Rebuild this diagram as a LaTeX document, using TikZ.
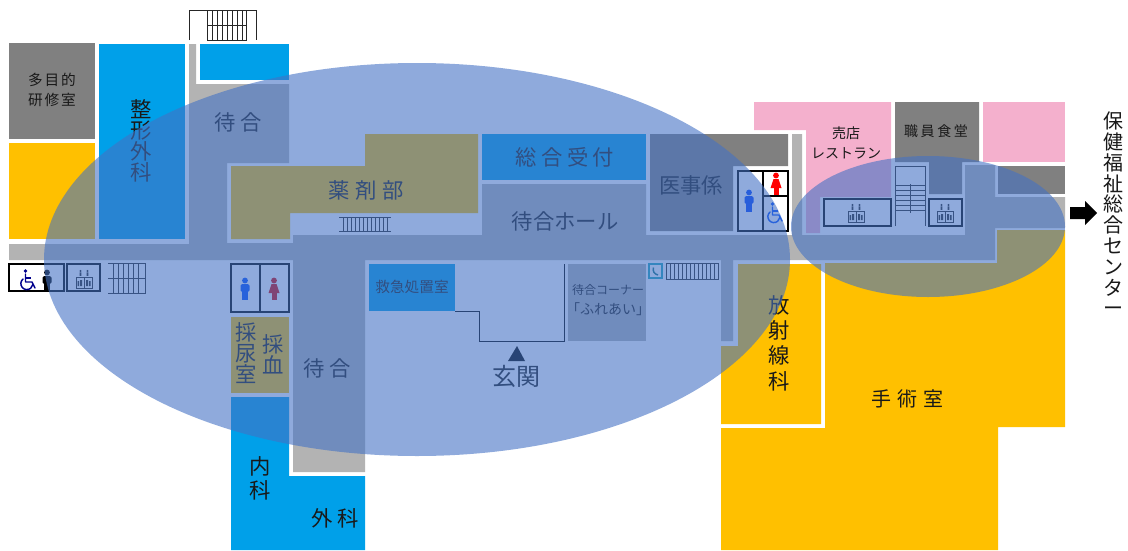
\documentclass[tikz,border=0pt]{standalone}
\usepackage{fontspec}
\newfontfamily\jp{Noto Sans CJK JP}
\newcommand\fsz[3]{\jp\fontsize{#1}{#2}\selectfont\addfontfeature{LetterSpace=#3}}
\definecolor{roomgray}{HTML}{808080}
\definecolor{hallgray}{HTML}{B3B3B3}
\definecolor{roomyellow}{HTML}{FFC000}
\definecolor{roomblue}{HTML}{00A0E9}
\definecolor{roompink}{HTML}{F4B0CD}
\definecolor{bubble}{HTML}{4472C4}
\definecolor{phoneteal}{HTML}{1CA5B8}
\tikzset{
  x=0.75pt,y=-0.75pt,
  lbl/.style={inner sep=0pt,outer sep=0pt,align=center,text=black!90},
  frameline/.style={draw=black,line width=1.2pt},
  thinline/.style={draw=black!85,line width=0.6pt},
  bubblefill/.style={fill=bubble,fill opacity=0.6},
  pics/man/.style={code={
    \fill[#1] (0,-8.5) circle (2.9);
    \fill[#1,rounded corners=1.2] (-4.5,-5) rectangle (4.5,3);
    \fill[#1] (-3,2) rectangle (3,11);
  }},
  pics/woman/.style={code={
    \fill[#1] (0,-8.5) circle (2.9);
    \fill[#1] (-2.5,-5) -- (2.5,-5) -- (5.5,4) -- (-5.5,4) -- cycle;
    \fill[#1] (-2.5,3) rectangle (2.5,11);
  }},
  pics/wheel/.style={code={
    \fill[#1] (-2.5,-10) circle (1.9);
    \draw[#1,line width=1.1pt,line cap=round,line join=round] (-2.5,-7) -- (-2.5,1) -- (4,1) -- (7,7);
    \draw[#1,line width=1.1pt] (-2.5,-3) -- (3,-3);
    \draw[#1,line width=1.1pt,line cap=round] (-5,-2) arc[start angle=230,end angle=10,radius=6];
  }},
  pics/lift/.style={code={
    \fill[black!85] (-3.5,-9) circle (1.2) (3.5,-9) circle (1.2);
    \fill[black!85] (-4.3,-7.6) rectangle (-2.7,-4.2) (2.7,-7.6) rectangle (4.3,-4.2);
    \draw[black!85,line width=0.6pt] (-8,-2.5) rectangle (8,8.5);
    \draw[black!85,line width=0.6pt] (0,-2.5) -- (0,8.5);
    \fill[black!85] (-4,0) rectangle (-2,6) (2,0) rectangle (4,6) (-6.5,1) rectangle (-5,6) (5,1) rectangle (6.5,6);
  }},
}
\begin{document}
\begin{tikzpicture}
\useasboundingbox (0,0) rectangle (1128,550);
% corridors
\fill[hallgray] (189,44) -- (196,44) -- (196,84) -- (289,84) -- (289,163) -- (227,163) -- (227,243) -- (293,243) -- (293,235) -- (482,235) -- (482,184) -- (646,184) -- (646,235) -- (792,235) -- (792,134) -- (802,134) -- (802,235) -- (965,235) -- (965,165) -- (995,165) -- (995,197) -- (1065,197) -- (1065,228) -- (995,228) -- (995,260) -- (733,260) -- (733,341) -- (721,341) -- (721,260) -- (365,260) -- (365,472) -- (293,472) -- (293,260) -- (9,260) -- (9,244) -- (189,244) -- cycle;
% rooms
\fill[roomgray] (9,43) rectangle (95,139);
\fill[roomyellow] (9,143) rectangle (95,239);
\fill[roomblue] (99,44) rectangle (185,239);
\fill[roomblue] (200,44) rectangle (289,80);
\fill[roomyellow] (231,166) -- (365,166) -- (365,134) -- (478,134) -- (478,213) -- (290,213) -- (290,239) -- (231,239) -- cycle;
\fill[roomblue] (482,134) rectangle (646,180);
\fill[roomgray] (650,134) -- (788,134) -- (788,166) -- (733,166) -- (733,231) -- (650,231) -- cycle;
\fill[roomblue] (369,264) rectangle (455,311);
\fill[hallgray] (568,264) rectangle (646,341);
\fill[roomyellow] (231,317) rectangle (289,393);
\fill[roomblue] (231,397) -- (289,397) -- (289,476) -- (365,476) -- (365,550) -- (231,550) -- cycle;
\fill[roomyellow] (738,264) -- (821,264) -- (821,424) -- (721,424) -- (721,346) -- (738,346) -- cycle;
\fill[roomyellow] (825,263) -- (997,263) -- (997,230) -- (1065,230) -- (1065,427) -- (998,427) -- (998,550) -- (721,550) -- (721,428) -- (825,428) -- cycle;
\fill[roompink] (754,102) -- (891,102) -- (891,197) -- (820,197) -- (820,233) -- (806,233) -- (806,130) -- (754,130) -- cycle;
\fill[roomgray] (895,102) -- (979,102) -- (979,162) -- (962,162) -- (962,194) -- (929,194) -- (929,162) -- (895,162) -- cycle;
\fill[roompink] (983,102) rectangle (1065,162);
\fill[roomgray] (998,166) rectangle (1065,194);
% entrance wall
\draw[black,line width=0.6pt] (455,311) -- (479,311) -- (479,341) -- (564,341) -- (564,264);
\fill[black] (517,346) -- (525,361) -- (508,361) -- cycle;
% stairs
\draw[thinline] (189,40) -- (189,10) -- (256,10) -- (256,40);
\draw[thinline] (207,10) rectangle (246,40) (207,25) -- (246,25);
\foreach \s in {212,217,...,242} \draw[thinline] (\s,10) -- (\s,40);
\draw[thinline] (339,217) -- (391,217) (339,231) -- (391,231);
\foreach \s in {343,347,...,387} \draw[thinline] (\s,217) -- (\s,231);
\draw[thinline] (108,263) -- (145,263) -- (145,293) -- (108,293) (108,278) -- (145,278);
\foreach \s in {113,118,...,138} \draw[thinline] (\s,263) -- (\s,293);
\draw[thinline] (666,263) rectangle (718,279);
\foreach \s in {670,674,...,714} \draw[thinline] (\s,263) -- (\s,279);
\draw[thinline] (895,166) -- (925,166) -- (925,226) (895,226) -- (895,166);
\foreach \s in {185,190,...,212} \draw[thinline] (895,\s) -- (925,\s);
\draw[thinline] (910,184) -- (910,213);
% phone
\draw[phoneteal,line width=1pt,fill=white] (649,264) rectangle (662,278);
\draw[phoneteal!70!black,line width=1.1pt] (653.5,267.5) .. controls (652.5,271) and (654,274) .. (658,275);
% toilets and lifts
\draw[frameline] (9,264) rectangle (64,291);
\draw[frameline] (67,264) rectangle (100,291);
\pic at (84,280) {lift};
\pic at (28,281) {wheel={blue!55!black}};
\pic at (47,281) {man={black}};
\draw[frameline] (231,264) rectangle (289,312) (260,264) -- (260,312);
\pic at (245,289) {man={blue!70!cyan}};
\pic at (274,289) {woman={red!85!black}};
\draw[frameline] (738,171) rectangle (788,231) (763,171) -- (763,231) (763,196) -- (788,196);
\pic at (749,201) {man={blue!75!cyan}};
\pic at (776,184) {woman={red}};
\pic at (775,214) {wheel={blue!70!cyan}};
\draw[frameline] (824,199) rectangle (891,226);
\pic at (856,214) {lift};
\draw[frameline] (929,199) rectangle (962,226);
\pic at (945,214) {lift};
% labels
\node[lbl,font=\fsz{11}{15.5}{13}] (n1) at (52,90) {多目的\\研修室};
\node[lbl,font=\fsz{16}{15.8}{0}] (n2) at (141,141) {整\\形\\外\\科};
\node[lbl,font=\fsz{16}{18}{20}] (n3) at (238,122) {待合};
\node[lbl,font=\fsz{16}{18}{25}] (n4) at (366,190) {薬剤部};
\node[lbl,font=\fsz{16}{18}{20}] (n5) at (565,157) {総合受付};
\node[lbl,font=\fsz{16}{18}{0}] (n6) at (565,221) {待合ホール};
\node[lbl,font=\fsz{16}{18}{0}] (n7) at (691,185) {医事係};
\node[lbl,font=\fsz{10.5}{15.5}{0}] (n8) at (846,143) {売店\\レストラン};
\node[lbl,font=\fsz{10.5}{14}{18}] (n9) at (936,131) {職員食堂};
\node[lbl,font=\fsz{16}{19}{0}] (n10) at (779,343) {放\\射\\線\\科};
\node[lbl,font=\fsz{15}{18}{30}] (n11) at (907,399) {手術室};
\node[lbl,font=\fsz{11}{14}{0}] (n12) at (412,287) {救急処置室};
\node[lbl,font=\fsz{9}{14}{0}] (n13a) at (608,290) {待合コーナー};
\node[lbl,font=\fsz{10.5}{14}{0}] (n13b) at (608,309) {「ふれあい」};
\node[lbl,font=\fsz{16}{18}{20}] (n14) at (327,368) {待合};
\node[lbl,font=\fsz{16}{15.8}{0}] (n15) at (246,353) {採\\尿\\室};
\node[lbl,font=\fsz{16}{15.8}{0}] (n16) at (273,354) {採\\血};
\node[lbl,font=\fsz{16}{18}{0}] (n17) at (260,478) {内\\科};
\node[lbl,font=\fsz{16}{18}{20}] (n18) at (335,518) {外科};
\node[lbl,font=\fsz{18}{20}{0}] (n19) at (516,376) {玄関};
\node[lbl,font=\fsz{15}{15.6}{0}] (n20) at (1113,214) {保\\健\\福\\祉\\総\\合\\セ\\ン\\タ\\ー};
% arrow
\fill[black] (1070,207) -- (1085,207) -- (1085,201) -- (1097,213) -- (1085,225) -- (1085,219) -- (1070,219) -- cycle;
% overlays
\fill[bubblefill] (417,259.5) ellipse (373 and 196.5);
\fill[bubblefill] (928,226.5) ellipse (137 and 70.5);
\end{tikzpicture}
\end{document}
